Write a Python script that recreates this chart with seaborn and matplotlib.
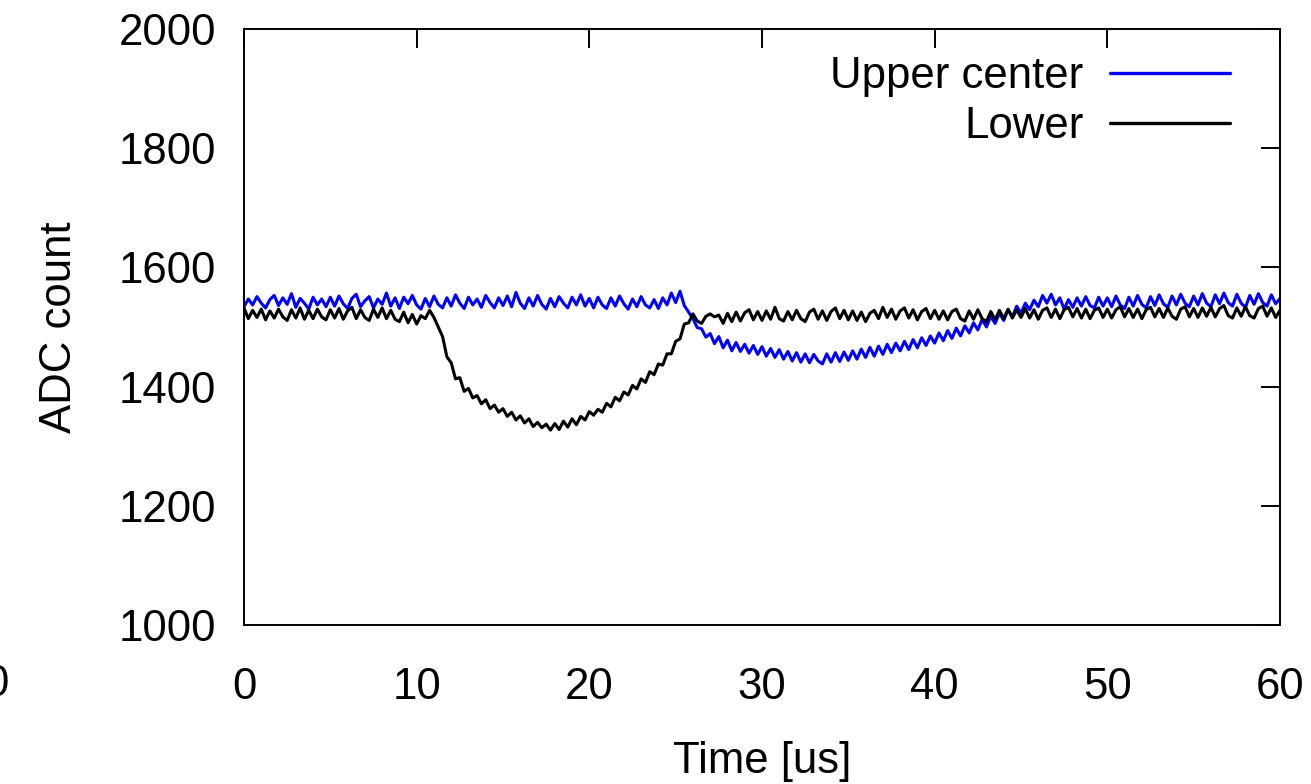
import numpy as np
import pandas as pd
import matplotlib
matplotlib.use("Agg")
import matplotlib.pyplot as plt
import seaborn as sns

# Time axis: 0 .. 60 us, step 0.25 us
time_us = [i * 0.25 for i in range(241)]

upper_center = [
    1534, 1547, 1537, 1551, 1540, 1532, 1546, 1553, 1536, 1549, 1538, 1556, 1533, 1548, 1540, 1530, 1550, 1537, 1547, 1534,
    1550, 1535, 1552, 1539, 1531, 1548, 1555, 1534, 1544, 1551, 1532, 1547, 1538, 1557, 1535, 1549, 1531, 1550, 1539, 1553,
    1537, 1530, 1548, 1534, 1552, 1538, 1532, 1549, 1535, 1554, 1540, 1531, 1550, 1537, 1547, 1533, 1553, 1541, 1532, 1549,
    1536, 1552, 1534, 1558, 1540, 1531, 1549, 1535, 1553, 1538, 1530, 1548, 1534, 1551, 1540, 1532, 1550, 1537, 1554, 1535,
    1548, 1532, 1550, 1537, 1531, 1549, 1535, 1552, 1539, 1530, 1547, 1534, 1551, 1537, 1532, 1546, 1531, 1549, 1537, 1557,
    1541, 1560, 1536, 1525, 1514, 1499, 1497, 1483, 1489, 1472, 1484, 1465, 1478, 1460, 1474, 1459, 1471, 1456, 1469, 1454,
    1467, 1451, 1464, 1449, 1462, 1446, 1459, 1443, 1457, 1441, 1455, 1440, 1454, 1443, 1438, 1455, 1441, 1457, 1442, 1458,
    1444, 1460, 1446, 1463, 1449, 1466, 1451, 1468, 1454, 1471, 1457, 1473, 1460, 1476, 1462, 1479, 1465, 1482, 1469, 1485,
    1473, 1490, 1477, 1494, 1481, 1498, 1485, 1502, 1490, 1507, 1495, 1513, 1500, 1518, 1506, 1523, 1511, 1529, 1517, 1535,
    1523, 1540, 1529, 1545, 1534, 1553, 1540, 1555, 1537, 1549, 1530, 1546, 1533, 1549, 1535, 1551, 1536, 1532, 1550, 1535,
    1549, 1534, 1552, 1537, 1531, 1550, 1535, 1553, 1538, 1532, 1551, 1536, 1554, 1539, 1533, 1552, 1537, 1555, 1540, 1534,
    1552, 1537, 1556, 1540, 1534, 1554, 1539, 1557, 1541, 1535, 1555, 1540, 1533, 1553, 1538, 1556, 1541, 1535, 1554, 1539,
    1548,
]

lower = [
    1532, 1514, 1528, 1516, 1530, 1512, 1527, 1515, 1530, 1517, 1511, 1529, 1515, 1532, 1513, 1528, 1514, 1530, 1517, 1512,
    1529, 1515, 1531, 1513, 1527, 1533, 1514, 1529, 1516, 1511, 1530, 1516, 1532, 1514, 1528, 1513, 1509, 1525, 1507, 1521,
    1505, 1519, 1514, 1528, 1516, 1500, 1484, 1450, 1440, 1413, 1415, 1392, 1397, 1381, 1385, 1371, 1378, 1363, 1369, 1357,
    1363, 1350, 1357, 1344, 1351, 1339, 1346, 1333, 1340, 1331, 1337, 1327, 1338, 1328, 1342, 1332, 1346, 1336, 1350, 1344,
    1358, 1352, 1362, 1357, 1372, 1366, 1382, 1376, 1391, 1386, 1402, 1396, 1413, 1407, 1425, 1420, 1438, 1436, 1455, 1455,
    1476, 1480, 1505, 1507, 1522, 1510, 1506, 1518, 1522, 1517, 1520, 1506, 1523, 1509, 1525, 1510, 1524, 1529, 1512, 1526,
    1511, 1527, 1513, 1533, 1514, 1510, 1526, 1512, 1528, 1514, 1509, 1525, 1530, 1513, 1527, 1511, 1526, 1532, 1514, 1528,
    1512, 1527, 1511, 1525, 1509, 1523, 1528, 1514, 1533, 1516, 1530, 1513, 1527, 1532, 1515, 1529, 1512, 1526, 1531, 1514,
    1528, 1513, 1527, 1512, 1526, 1530, 1514, 1510, 1527, 1513, 1529, 1514, 1509, 1526, 1512, 1528, 1514, 1530, 1515, 1529,
    1516, 1531, 1515, 1529, 1513, 1528, 1532, 1516, 1530, 1514, 1529, 1533, 1517, 1531, 1515, 1530, 1514, 1528, 1532, 1516,
    1530, 1515, 1529, 1534, 1517, 1531, 1516, 1530, 1514, 1529, 1533, 1517, 1531, 1516, 1532, 1518, 1513, 1530, 1534, 1517,
    1531, 1516, 1532, 1518, 1533, 1517, 1531, 1536, 1519, 1515, 1532, 1518, 1534, 1519, 1515, 1531, 1535, 1518, 1532, 1516,
    1528,
]

series_names = ["Upper center", "Lower"]
series_colors = ["#0000ff", "#000000"]
x_ticks = [0, 10, 20, 30, 40, 50, 60]
y_ticks = [1000, 1200, 1400, 1600, 1800, 2000]

df = pd.DataFrame({
    "Time": time_us * 2,
    "ADC": upper_center + lower,
    "Series": [series_names[0]] * len(time_us) + [series_names[1]] * len(time_us),
})

sns.set_style("white")
plt.rcParams["font.family"] = ["Liberation Sans", "DejaVu Sans"]
plt.rcParams["text.color"] = "black"
plt.rcParams["axes.labelcolor"] = "black"
plt.rcParams["xtick.color"] = "black"
plt.rcParams["ytick.color"] = "black"
FS = 31.5

fig = plt.figure(figsize=(13.11, 7.84), dpi=100)
ax = fig.add_axes([244 / 1311, 1 - 625 / 784, (1280 - 244) / 1311, (625 - 29) / 784])

sns.lineplot(data=df, x="Time", y="ADC", hue="Series", hue_order=series_names,
             palette=series_colors, linewidth=2.2, ax=ax, estimator=None, sort=False)

ax.set_xlim(0, 60)
ax.set_ylim(1000, 2000)
ax.set_xticks(x_ticks)
ax.set_yticks(y_ticks)
ax.set_xlabel("Time [us]", fontsize=FS, labelpad=24, color="black")
ax.set_ylabel("ADC count", fontsize=FS, labelpad=28, color="black")
ax.tick_params(axis="both", which="major", direction="in", length=14, width=1.4,
               labelsize=FS, top=True, right=True, color="black", labelcolor="black")
ax.tick_params(axis="x", pad=30)
ax.tick_params(axis="y", pad=20)
for sp in ax.spines.values():
    sp.set_visible(True)
    sp.set_linewidth(1.4)
    sp.set_color("black")

handles, labels = ax.get_legend_handles_labels()
leg = ax.legend(handles, labels, loc="upper right", bbox_to_anchor=(0.952, 0.955),
                frameon=False, markerfirst=False, fontsize=FS, handlelength=2.75,
                handletextpad=0.6, labelspacing=0.22, borderpad=0, borderaxespad=0)
for ln in leg.get_lines():
    ln.set_linewidth(2.4)
for t in leg.get_texts():
    t.set_color("black")

# clipped tick label from neighbouring panel at the left edge
fig.text(-4 / 1311, 1 - 684 / 784, "0", fontsize=FS, ha="center", va="center", color="black")

fig.savefig("out.png", dpi=100)
